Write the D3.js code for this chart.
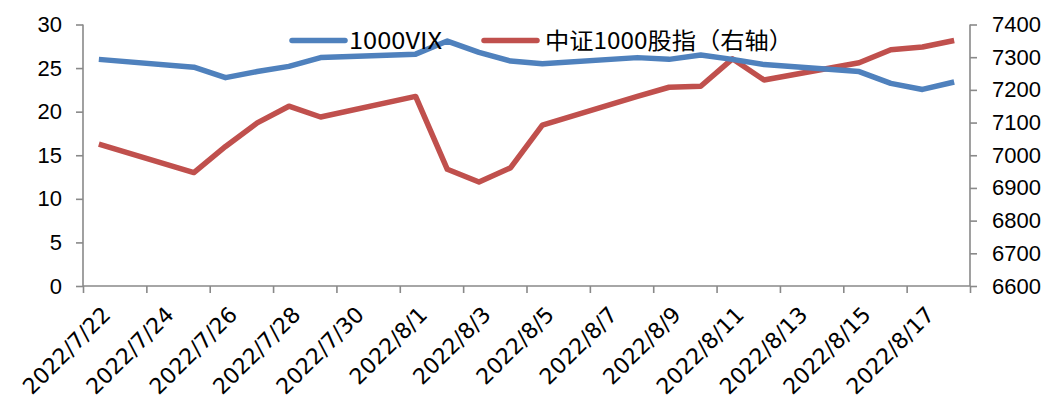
<!DOCTYPE html>
<html>
<head>
<meta charset="utf-8">
<script src="https://cdn.jsdelivr.net/npm/d3@7"></script>
<style>
  html, body { margin: 0; padding: 0; background: #fff; }
  svg { display: block; }
</style>
</head>
<body>
<svg id="chart" width="1045" height="402"></svg>
<script>
// ---- data ----
const dates = ["2022-07-22","2022-07-25","2022-07-26","2022-07-27","2022-07-28","2022-07-29",
               "2022-08-01","2022-08-02","2022-08-03","2022-08-04","2022-08-05",
               "2022-08-08","2022-08-09","2022-08-10","2022-08-11","2022-08-12",
               "2022-08-15","2022-08-16","2022-08-17","2022-08-18"];
const vix = [26.0, 25.1, 23.9, 24.6, 25.2, 26.2, 26.6, 28.1, 26.8, 25.8, 25.5,
             26.2, 26.0, 26.5, 26.0, 25.4, 24.6, 23.25, 22.55, 23.4];
const csi1000 = [7034, 6947, 7027, 7099, 7150, 7117, 7180, 6957, 6918, 6962, 7092,
                 7180, 7208, 7211, 7295, 7230, 7283, 7323, 7331, 7351];
const xTickDates = ["2022-07-22","2022-07-24","2022-07-26","2022-07-28","2022-07-30",
                    "2022-08-01","2022-08-03","2022-08-05","2022-08-07","2022-08-09",
                    "2022-08-11","2022-08-13","2022-08-15","2022-08-17"];
const leftTicks = [0, 5, 10, 15, 20, 25, 30];
const rightTicks = [6600, 6700, 6800, 6900, 7000, 7100, 7200, 7300, 7400];
const seriesNames = ["1000VIX", "中证1000股指（右轴）"];
const colors = ["#4F81BD", "#C0504D"];

// ---- layout ----
const parse = d3.timeParse("%Y-%m-%d");
const svg = d3.select("#chart");
const L = 83, R = 970, T = 24.5, B = 286;
const axisColor = "#898989";
const tickFont = "'Liberation Sans', Arial, sans-serif";
const xLabFont = "'DejaVu Sans', sans-serif";

const x = d3.scaleTime()
  .domain([d3.timeHour.offset(parse(dates[0]), -12), d3.timeHour.offset(parse(dates[dates.length-1]), 12)])
  .range([L, R]);
const yL = d3.scaleLinear().domain([0, 30]).range([B, T]);
const yR = d3.scaleLinear().domain([6600, 7400]).range([B, T]);

// left axis
const gL = svg.append("g").attr("transform", `translate(${L},0)`)
  .call(d3.axisLeft(yL).tickValues(leftTicks).tickSize(7).tickPadding(14).tickFormat(d3.format("d")));
// right axis
const gR = svg.append("g").attr("transform", `translate(${R},0)`)
  .call(d3.axisRight(yR).tickValues(rightTicks).tickSize(7).tickPadding(15).tickFormat(d3.format("d")));
// bottom axis (tick marks at slot boundaries)
const boundaries = xTickDates.map(d => d3.timeHour.offset(parse(d), -12))
  .concat([x.domain()[1]]);
const gB = svg.append("g").attr("transform", `translate(0,${B})`)
  .call(d3.axisBottom(x).tickValues(boundaries).tickSize(7).tickFormat(""));

[gL, gR, gB].forEach(g => {
  g.selectAll(".domain").attr("stroke", axisColor).attr("stroke-width", 1.6);
  g.selectAll(".tick line").attr("stroke", axisColor).attr("stroke-width", 1.6);
  g.selectAll(".tick text").attr("fill", "#000").style("font-family", tickFont).style("font-size", "22px");
});
gL.selectAll(".domain").attr("d", `M-0,${B}V${T}`);
gR.selectAll(".domain").attr("d", `M0,${B}V${T}`);
gB.selectAll(".domain").attr("d", `M${L},0H${R}`);

// x labels, rotated
svg.append("g").selectAll("text").data(xTickDates).join("text")
  .attr("transform", d => `translate(${x(parse(d)) + 2},${B + 19}) rotate(-45)`)
  .attr("text-anchor", "end")
  .attr("dy", "0.71em")
  .style("font-family", xLabFont).style("font-size", "22px")
  .text(d => { const t = parse(d); return `${t.getFullYear()}/${t.getMonth()+1}/${t.getDate()}`; });

// lines
const lineL = d3.line().x((d, i) => x(parse(dates[i]))).y(d => yL(d));
const lineR = d3.line().x((d, i) => x(parse(dates[i]))).y(d => yR(d));
svg.append("path").datum(csi1000).attr("d", lineR).attr("fill", "none")
  .attr("stroke", colors[1]).attr("stroke-width", 5.5).attr("stroke-linejoin", "round");
svg.append("path").datum(vix).attr("d", lineL).attr("fill", "none")
  .attr("stroke", colors[0]).attr("stroke-width", 5.5).attr("stroke-linejoin", "round");

// legend
const legendFont = "'Noto Sans CJK SC', sans-serif";
const leg = [{x: 292, tx: 349, w: 93}, {x: 484, tx: 545, w: 248}];
leg.forEach((l, i) => {
  svg.append("line").attr("x1", l.x).attr("x2", l.x + 53).attr("y1", 40.5).attr("y2", 40.5)
    .attr("stroke", colors[i]).attr("stroke-width", 5.5).attr("stroke-linecap", "round");
  svg.append("text").attr("x", l.tx).attr("y", 41).attr("dy", "0.36em")
    .attr("textLength", l.w).attr("lengthAdjust", "spacingAndGlyphs")
    .style("font-family", legendFont).style("font-size", "23px").text(seriesNames[i]);
});
</script>
</body>
</html>
